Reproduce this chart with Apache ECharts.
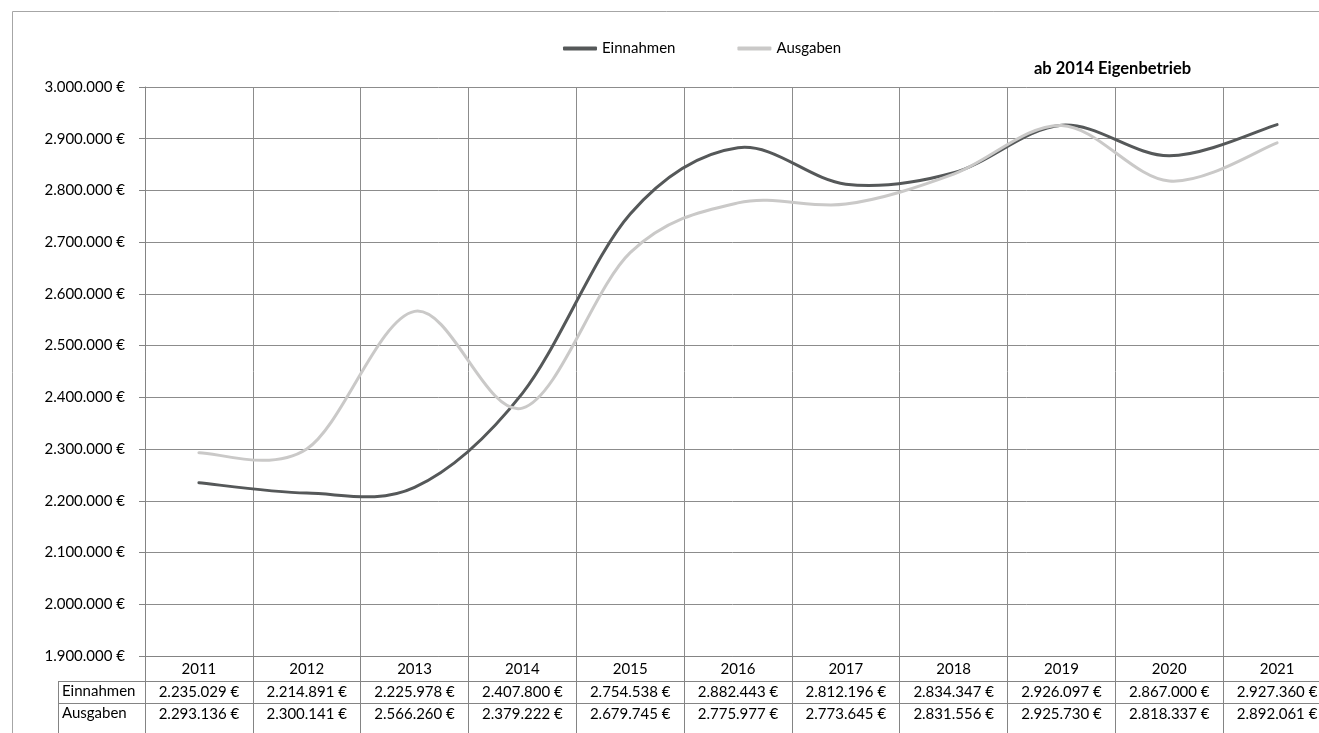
<!DOCTYPE html>
<html>
<head>
<meta charset="utf-8">
<script src="https://cdn.jsdelivr.net/npm/echarts@6/dist/echarts.min.js"></script>
<style>
html,body{margin:0;padding:0;background:#fff;overflow:hidden;}
#c{width:1319px;height:733px;}
</style>
</head>
<body>
<div id="c"></div>
<script>
const years = ['2011','2012','2013','2014','2015','2016','2017','2018','2019','2020','2021'];
const einnahmen = [2235029, 2214891, 2225978, 2407800, 2754538, 2882443, 2812196, 2834347, 2926097, 2867000, 2927360];
const ausgaben = [2293136, 2300141, 2566260, 2379222, 2679745, 2775977, 2773645, 2831556, 2925730, 2818337, 2892061];
const seriesNames = ['Einnahmen', 'Ausgaben'];
const noteText = 'ab 2014 Eigenbetrieb';

function fmt(v) {
  return String(v).replace(/\B(?=(\d{3})+(?!\d))/g, '.') + ' €';
}

const FONT = 'Lato';
const GRID = '#8c8c8c';
const AXIS = '#848484';
const COL_E = '#555859';
const COL_A = '#cac9c8';
const chart = echarts.init(document.getElementById('c'), null, {renderer: 'canvas'});

const gridLeft = 145, gridTop = 87, gridW = 1186, gridH = 569;
const gridBottom = gridTop + gridH;

const labelStyle = {fontFamily: FONT, fontSize: 15, color: '#000'};

function smoothRenderer(values, color) {
  return function (params, api) {
    if (params.dataIndex !== 0) return null;
    const pts = values.map((v, i) => api.coord([i, v]));
    const n = pts.length;
    let d = 'M' + pts[0][0] + ',' + pts[0][1];
    for (let i = 0; i < n - 1; i++) {
      const p0 = pts[Math.max(i - 1, 0)];
      const p1 = pts[i];
      const p2 = pts[i + 1];
      const p3 = pts[Math.min(i + 2, n - 1)];
      const c1x = p1[0] + (p2[0] - p0[0]) / 6;
      const c1y = p1[1] + (p2[1] - p0[1]) / 6;
      const c2x = p2[0] - (p3[0] - p1[0]) / 6;
      const c2y = p2[1] - (p3[1] - p1[1]) / 6;
      d += ' C' + c1x + ',' + c1y + ' ' + c2x + ',' + c2y + ' ' + p2[0] + ',' + p2[1];
    }
    return {
      type: 'path',
      shape: {pathData: d},
      style: {fill: null, stroke: color, lineWidth: 3, lineCap: 'round', lineJoin: 'round'}
    };
  };
}

chart.setOption({
  animation: false,
  backgroundColor: '#fff',
  grid: {left: gridLeft, top: gridTop, width: gridW, height: gridH, containLabel: false, outerBoundsMode: 'none'},
  legend: {
    data: seriesNames,
    left: 563, top: 41, padding: 0,
    icon: 'roundRect',
    itemWidth: 34, itemHeight: 4,
    itemGap: 62, itemTextGap: 3,
    textStyle: {fontFamily: FONT, fontSize: 15, color: '#000'}
  },
  xAxis: [
    {
      type: 'category', data: years, position: 'bottom', boundaryGap: true,
      axisLine: {show: true, lineStyle: {color: AXIS, width: 1}},
      axisTick: {show: true, interval: 0, length: 80, lineStyle: {color: AXIS}},
      axisLabel: Object.assign({margin: 6, interval: 0}, labelStyle),
      splitLine: {show: true, interval: 0, lineStyle: {color: GRID, width: 1}}
    },
    {
      type: 'category', data: years, position: 'bottom', offset: 25, boundaryGap: true,
      axisLine: {show: true, lineStyle: {color: AXIS, width: 1}},
      axisTick: {show: false},
      axisLabel: Object.assign({margin: 4, interval: 0, formatter: (v, i) => fmt(einnahmen[i])}, labelStyle),
      splitLine: {show: false}
    },
    {
      type: 'category', data: years, position: 'bottom', offset: 47, boundaryGap: true,
      axisLine: {show: true, lineStyle: {color: AXIS, width: 1}},
      axisTick: {show: false},
      axisLabel: Object.assign({margin: 4, interval: 0, formatter: (v, i) => fmt(ausgaben[i])}, labelStyle),
      splitLine: {show: false}
    }
  ],
  yAxis: {
    type: 'value', min: 1900000, max: 3000000, interval: 100000,
    axisLine: {show: true, lineStyle: {color: AXIS, width: 1}},
    axisTick: {show: true, length: 6, lineStyle: {color: AXIS}},
    axisLabel: Object.assign({margin: 20, formatter: v => fmt(v)}, labelStyle),
    splitLine: {show: true, lineStyle: {color: GRID, width: 1}}
  },
  series: [
    {
      name: seriesNames[0], type: 'custom', xAxisIndex: 0,
      data: einnahmen.map((v, i) => [i, v]),
      encode: {x: 0, y: 1},
      itemStyle: {color: COL_E},
      renderItem: smoothRenderer(einnahmen, COL_E),
      z: 3
    },
    {
      name: seriesNames[1], type: 'custom', xAxisIndex: 0,
      data: ausgaben.map((v, i) => [i, v]),
      encode: {x: 0, y: 1},
      itemStyle: {color: COL_A},
      renderItem: smoothRenderer(ausgaben, COL_A),
      z: 4
    }
  ],
  graphic: [
    {type: 'rect', silent: true, shape: {x: 12.5, y: 11.5, width: 1400, height: 800}, style: {fill: null, stroke: '#a6a6a6', lineWidth: 1}, z: -1},
    {type: 'text', left: 1034, top: 60, style: {text: noteText, font: 'bold 16.5px ' + FONT, fill: '#000'}},
    {type: 'line', silent: true, shape: {x1: 58, y1: gridBottom + 25.5, x2: gridLeft, y2: gridBottom + 25.5}, style: {stroke: AXIS, lineWidth: 1}},
    {type: 'line', silent: true, shape: {x1: 58, y1: gridBottom + 47.5, x2: gridLeft, y2: gridBottom + 47.5}, style: {stroke: AXIS, lineWidth: 1}},
    {type: 'line', silent: true, shape: {x1: 58.5, y1: gridBottom + 25, x2: 58.5, y2: 733}, style: {stroke: AXIS, lineWidth: 1}},
    {type: 'text', left: 62, top: gridBottom + 28, style: {text: seriesNames[0], font: '15px ' + FONT, fill: '#000'}},
    {type: 'text', left: 62, top: gridBottom + 50, style: {text: seriesNames[1], font: '15px ' + FONT, fill: '#000'}}
  ]
});
</script>
</body>
</html>
